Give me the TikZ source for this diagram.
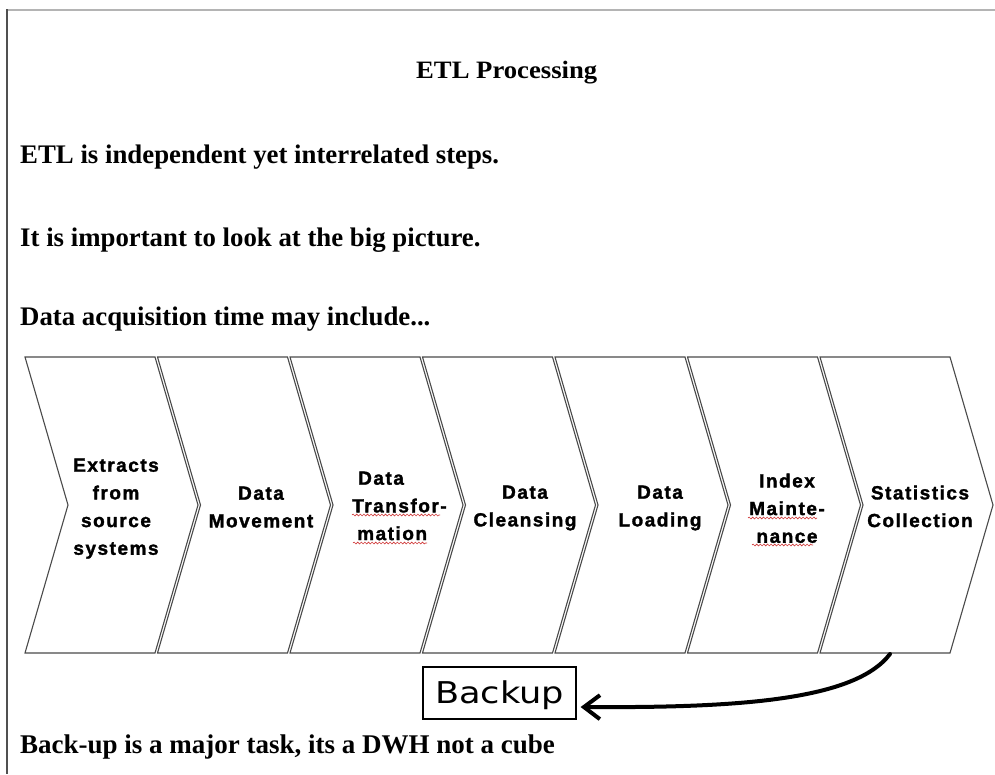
\documentclass[tikz,border=0pt]{standalone}
\usepackage{fontspec}
\usepackage{graphicx}
\setmainfont{Liberation Serif}
\newfontfamily\chevfont[LetterSpace=8, FakeBold=1.6]{Liberation Sans Bold}
\newfontfamily\boxfont{DejaVu Sans}
\usetikzlibrary{arrows.meta,decorations.pathmorphing}

\definecolor{chevgray}{HTML}{4A4A4A}
\definecolor{topgray}{HTML}{B4B4B4}
\definecolor{leftgray}{HTML}{505050}
\definecolor{spellred}{HTML}{D03A3A}

\tikzset{
  heading/.style={anchor=base west, inner sep=0pt,
    font=\bfseries\fontsize{26.8}{30}\selectfont},
  titletext/.style={anchor=base west, inner sep=0pt,
    font=\bfseries\fontsize{25}{28}\selectfont},
  chevron/.style={draw=chevgray, line width=1.1pt, fill=white, line join=miter},
  chevtext/.style={anchor=north, inner sep=0pt, align=center,
    font=\chevfont\fontsize{19}{27.7}\selectfont},
  squiggle/.style={draw=spellred, line width=0.6pt, decorate,
    decoration={snake, amplitude=0.9pt, segment length=3.6pt}},
  backupbox/.style={draw=black, line width=1.2pt, fill=white,
    minimum width=153pt, minimum height=52pt, inner sep=0pt,
    text height=20pt, text depth=0pt,
    font=\boxfont\fontsize{30}{34}\selectfont},
  bigarrow/.style={line width=4pt, line cap=round,
    -{Straight Barb[length=16pt, width=24pt]}}
}

\begin{document}
\begin{tikzpicture}[x=1pt, y=-1pt]
  \useasboundingbox (0,0) rectangle (995,774);
  \fill[white] (0,0) rectangle (995,774);

  % page frame: light top rule, dark left rule
  \draw[topgray, line width=1.3pt] (6,10) -- (995,10);
  \draw[leftgray, line width=2.2pt] (7,9.4) -- (7,774);

  % title and text lines
  \node[titletext] (title) at (416,78) {\resizebox{181pt}{\height}{ETL Processing}};
  \node[heading] (l1) at (20,163) {ETL is independent yet interrelated steps.};
  \node[heading] (l2) at (20,246) {It is important to look at the big picture.};
  \node[heading] (l3) at (20,325) {Data acquisition time may include...};
  \node[heading, font=\bfseries\fontsize{27}{30}\selectfont] (l4) at (20,753)
    {Back-up is a major task, its a DWH not a cube};

  % chain of seven chevrons
  \foreach \i in {0,...,6} {
    \pgfmathsetmacro\R{155+132.5*\i}
    \draw[chevron] (\R-130,357) -- (\R,357) -- (\R+43,505) -- (\R,653)
      -- (\R-130,653) -- (\R-87,505) -- cycle;
  }

  % chevron captions
  \node[chevtext] (c1) at (116,458.4) {Extracts\\from\\source\\systems};
  \node[chevtext] (c2) at (261,486.4) {Data\\Movement};
  \node[chevtext, anchor=north west, align=left] (c3) at (352,471.4)
    {\hspace*{6pt}Data\\Transfor-\\\hspace*{5pt}mation};
  \node[chevtext] (c4) at (525,485.4) {Data\\Cleansing};
  \node[chevtext] (c5) at (660,485.4) {Data\\Loading};
  \node[chevtext] (c6) at (787,473.4) {Index\\Mainte-\\nance};
  \node[chevtext] (c7) at (920,485.4) {Statistics\\Collection};

  % spell-checker underlines
  \draw[squiggle] (352,515) -- (440,515);
  \draw[squiggle] (353,543) -- (427,543);
  \draw[squiggle] (748,518) -- (817,518);
  \draw[squiggle] (752,545) -- (813,545);

  % backup box and the arrow leading to it
  \node[backupbox] (backup) at (499.5,693) {\resizebox{129pt}{\height}{Backup}};
  \coordinate (c7foot) at (890,654);
  \draw[bigarrow] (c7foot) .. controls (855,700) and (740,708)
    .. ([xshift=4pt, yshift=-14pt]backup.east);
\end{tikzpicture}
\end{document}
